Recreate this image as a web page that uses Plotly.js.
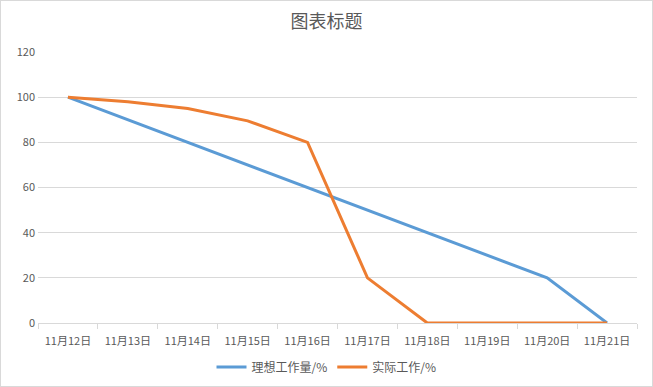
<!DOCTYPE html>
<html><head><meta charset="utf-8">
<script src="https://cdn.plot.ly/plotly-3.0.1.min.js"></script>
<style>
html,body{margin:0;padding:0;background:#fff;}
#wrap{position:relative;width:653px;height:387px;}
#chart{width:653px;height:387px;}
#border{position:absolute;left:0;top:0;width:651px;height:385px;border:1px solid #d9d9d9;pointer-events:none;}
</style></head>
<body>
<div id="wrap"><div id="chart"></div><div id="border"></div></div>
<script>
const categories = ["11月12日","11月13日","11月14日","11月15日","11月16日","11月17日","11月18日","11月19日","11月20日","11月21日"];
const idealName = "理想工作量/%";
const idealValues = [100, 90, 80, 70, 60, 50, 40, 30, 20, 0];
const actualName = "实际工作/%";
const actualValues = [100, 98, 95, 89.5, 80, 20, 0, 0, 0, 0];
const yTicks = [0, 20, 40, 60, 80, 100, 120];

const font = "'Noto Sans CJK SC', 'Noto Sans', sans-serif";
const traces = [
  {x: categories, y: idealValues, name: idealName, type: "scatter", mode: "lines",
   line: {color: "#5B9BD5", width: 3}},
  {x: categories, y: actualValues, name: actualName, type: "scatter", mode: "lines",
   line: {color: "#ED7D31", width: 3}}
];
const layout = {
  width: 653, height: 387,
  margin: {l: 38, r: 16, t: 52, b: 64},
  paper_bgcolor: "#fff", plot_bgcolor: "#fff",
  font: {family: font, color: "#595959", size: 11},
  title: {text: "图表标题", font: {size: 18, color: "#595959", family: font},
          x: 0.5, xanchor: "center", y: 1 - 22/387, yanchor: "middle", yref: "container"},
  xaxis: {type: "category", range: [-0.5, 9.5], tickson: "boundaries",
          ticks: "outside", ticklen: 5, tickcolor: "#d9d9d9", ticklabelstandoff: 8,
          showline: true, linecolor: "#d9d9d9", linewidth: 1,
          showgrid: false, zeroline: false, fixedrange: true, automargin: false,
          tickfont: {size: 11, color: "#595959"}},
  yaxis: {range: [0, 120], tickvals: yTicks, ticktext: yTicks.map(String),
          showgrid: true, gridcolor: "#d9d9d9", gridwidth: 1, automargin: false,
          zeroline: false, showline: false, ticks: "", fixedrange: true, ticklabelstandoff: 2,
          tickfont: {size: 11, color: "#595959"}},
  showlegend: true,
  legend: {orientation: "h", x: 0.5, xanchor: "center", xref: "container",
           y: 1 - 367/387, yanchor: "middle", yref: "container",
           font: {size: 12, color: "#595959"}, itemwidth: 30}
};
Plotly.newPlot("chart", traces, layout, {displayModeBar: false, staticPlot: true});
</script>
</body></html>
